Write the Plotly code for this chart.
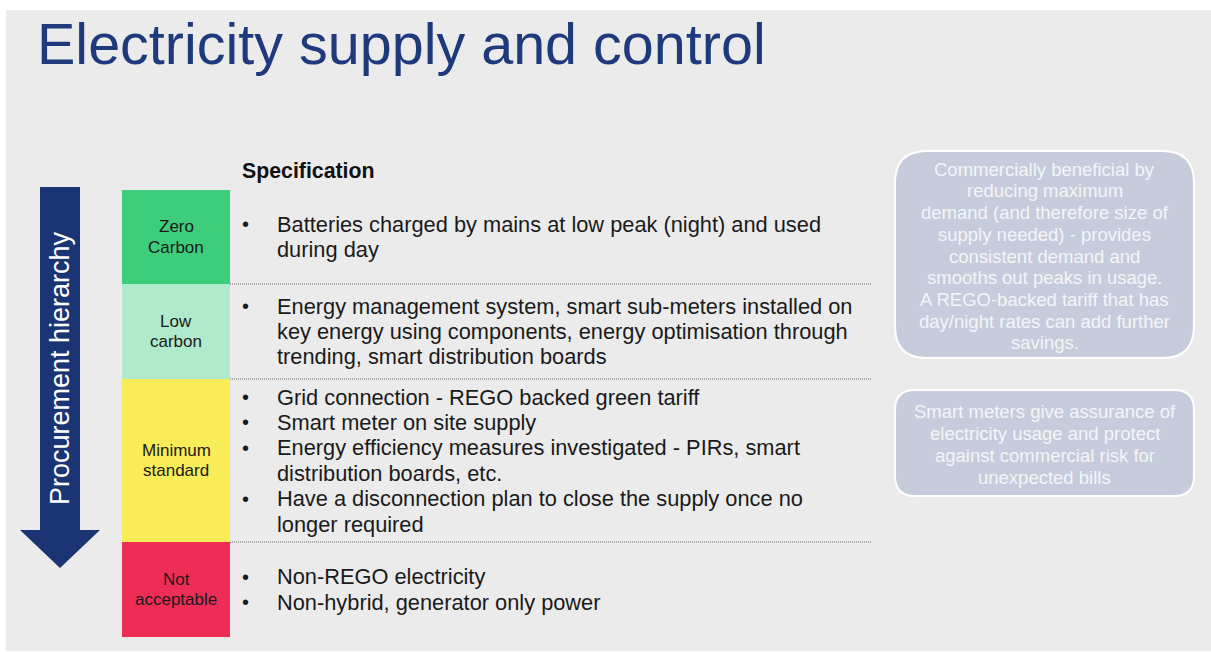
import plotly.graph_objects as go

# ---------------- data ----------------
title_text = "Electricity supply and control"
hierarchy_label = "Procurement hierarchy"
spec_header = "Specification"

tier_labels = [["Zero", "Carbon"], ["Low", "carbon"], ["Minimum", "standard"], ["Not", "acceptable"]]
tier_colors = ["#3ecd7a", "#b0eacd", "#f9ec59", "#ee2d56"]

spec_items = [
    [["Batteries charged by mains at low peak (night) and used", "during day"]],
    [["Energy management system, smart sub-meters installed on",
      "key energy using components, energy optimisation through",
      "trending, smart distribution boards"]],
    [["Grid connection - REGO backed green tariff"],
     ["Smart meter on site supply"],
     ["Energy efficiency measures investigated - PIRs, smart", "distribution boards, etc."],
     ["Have a disconnection plan to close the supply once no", "longer required"]],
    [["Non-REGO electricity"], ["Non-hybrid, generator only power"]],
]

note_texts = [
    ["Commercially beneficial by", "reducing maximum", "demand (and therefore size of",
     "supply needed) - provides", "consistent demand and", "smooths out peaks in usage.",
     "A REGO-backed tariff that has", "day/night rates can add further", "savings."],
    ["Smart meters give assurance of", "electricity usage and protect",
     "against commercial risk for", "unexpected bills"],
]

# ---------------- layout constants ----------------
W, H = 1211, 652
FONT = "Liberation Sans"
row_edges = [190, 284, 379, 542, 637]
box_x0, box_x1 = 122, 230
sep_x1 = 872
bullet_x, text_x = 245, 275
line_gap = 25.4
tier_gap = 20.5
note_boxes = [(895, 151, 1194, 358, 32), (895, 390, 1194, 496, 20)]
note_gap = 21.7

fig = go.Figure()
fig.add_trace(go.Scatter(x=[0, W], y=[0, H], mode="markers", marker=dict(opacity=0), hoverinfo="skip", showlegend=False))

shapes = []
annotations = []

# background panel
shapes.append(dict(type="rect", x0=6, y0=10, x1=W, y1=651, fillcolor="#ebebeb", line=dict(width=0), layer="below"))

# title
annotations.append(dict(x=35, y=44, text=title_text, showarrow=False, xanchor="left", yanchor="middle",
                        font=dict(family=FONT, size=57.5, color="#1e3a7c")))

# arrow
shapes.append(dict(type="path", path="M 40 187 L 80 187 L 80 530 L 100 530 L 60 568 L 20 530 L 40 530 Z",
                   fillcolor="#1b3473", line=dict(width=0)))
annotations.append(dict(x=60, y=368, text=hierarchy_label, showarrow=False, textangle=-90,
                        xanchor="center", yanchor="middle", font=dict(family=FONT, size=27, color="white")))

# spec header
annotations.append(dict(x=240, y=171, text="<b>" + spec_header + "</b>", showarrow=False, xanchor="left",
                        yanchor="middle", font=dict(family=FONT, size=21.3, color="#111111")))

for i, (labels, color, items) in enumerate(zip(tier_labels, tier_colors, spec_items)):
    y0, y1 = row_edges[i], row_edges[i + 1]
    yc = (y0 + y1) / 2
    shapes.append(dict(type="rect", x0=box_x0, x1=box_x1, y0=y0, y1=y1, fillcolor=color, line=dict(width=0)))
    for k, lab in enumerate(labels):
        yy = yc + (k - (len(labels) - 1) / 2) * tier_gap
        annotations.append(dict(x=(box_x0 + box_x1) / 2, y=yy, text=lab, showarrow=False, xanchor="center",
                                yanchor="middle", font=dict(family=FONT, size=17, color="#1a1a1a")))
    nlines = sum(len(it) for it in items)
    first = yc - (nlines - 1) / 2 * line_gap
    li = 0
    for it in items:
        annotations.append(dict(x=bullet_x, y=first + li * line_gap, text="•", showarrow=False, xanchor="center",
                                yanchor="middle", font=dict(family=FONT, size=20, color="#1a1a1a")))
        for line in it:
            annotations.append(dict(x=text_x, y=first + li * line_gap, text=line, showarrow=False, xanchor="left",
                                    yanchor="middle", font=dict(family=FONT, size=21.8, color="#1a1a1a")))
            li += 1
    if i < len(tier_labels) - 1:
        shapes.append(dict(type="line", x0=box_x1, x1=sep_x1, y0=y1, y1=y1,
                           line=dict(color="#6a6a6a", width=1, dash="1px,1px")))


def rounded(x0, y0, x1, y1, r):
    return (f"M {x0 + r} {y0} L {x1 - r} {y0} Q {x1} {y0} {x1} {y0 + r} L {x1} {y1 - r} "
            f"Q {x1} {y1} {x1 - r} {y1} L {x0 + r} {y1} Q {x0} {y1} {x0} {y1 - r} "
            f"L {x0} {y0 + r} Q {x0} {y0} {x0 + r} {y0} Z")


for (x0, y0, x1, y1, r), lines in zip(note_boxes, note_texts):
    shapes.append(dict(type="path", path=rounded(x0, y0, x1, y1, r), fillcolor="#c6ccdb",
                       line=dict(color="#ffffff", width=2)))
    yc = (y0 + y1) / 2 + 1.5
    for k, line in enumerate(lines):
        yy = yc + (k - (len(lines) - 1) / 2) * note_gap
        annotations.append(dict(x=(x0 + x1) / 2, y=yy, text=line, showarrow=False, xanchor="center",
                                yanchor="middle", font=dict(family=FONT, size=18.5, color="#f4f5f8")))

fig.update_layout(
    width=W, height=H, autosize=False,
    margin=dict(l=0, r=0, t=0, b=0),
    paper_bgcolor="white", plot_bgcolor="rgba(0,0,0,0)",
    xaxis=dict(range=[0, W], visible=False, fixedrange=True),
    yaxis=dict(range=[H, 0], visible=False, fixedrange=True),
    shapes=shapes, annotations=annotations, showlegend=False,
)

fig.write_html("out.html", config={"displayModeBar": False},
               post_script="document.body.style.margin='0';")
